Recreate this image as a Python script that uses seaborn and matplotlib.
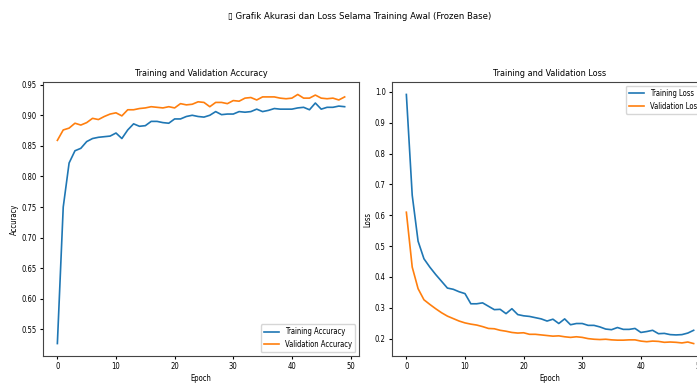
import pandas as pd
import seaborn as sns
import matplotlib.pyplot as plt

epochs = list(range(50))

train_acc = [0.527, 0.750, 0.822, 0.842, 0.846, 0.857, 0.862, 0.864, 0.865, 0.866,
             0.871, 0.862, 0.876, 0.886, 0.882, 0.883, 0.890, 0.890, 0.888, 0.887,
             0.894, 0.894, 0.898, 0.900, 0.898, 0.897, 0.900, 0.906, 0.901, 0.902,
             0.902, 0.906, 0.905, 0.906, 0.910, 0.906, 0.908, 0.911, 0.910, 0.910,
             0.910, 0.912, 0.913, 0.909, 0.920, 0.910, 0.913, 0.913, 0.915, 0.914]
val_acc = [0.859, 0.876, 0.879, 0.887, 0.884, 0.888, 0.895, 0.893, 0.898, 0.902,
           0.904, 0.899, 0.909, 0.909, 0.911, 0.912, 0.914, 0.913, 0.912, 0.914,
           0.912, 0.919, 0.917, 0.918, 0.922, 0.921, 0.914, 0.921, 0.921, 0.919,
           0.924, 0.923, 0.928, 0.929, 0.925, 0.930, 0.930, 0.930, 0.928, 0.927,
           0.928, 0.934, 0.928, 0.928, 0.933, 0.928, 0.927, 0.928, 0.925, 0.930]
train_loss = [0.992, 0.665, 0.516, 0.459, 0.432, 0.408, 0.386, 0.364, 0.360, 0.352,
              0.346, 0.313, 0.313, 0.316, 0.305, 0.294, 0.295, 0.281, 0.297, 0.278,
              0.274, 0.272, 0.268, 0.264, 0.257, 0.263, 0.249, 0.264, 0.245, 0.249,
              0.249, 0.243, 0.243, 0.238, 0.231, 0.229, 0.236, 0.230, 0.230, 0.233,
              0.220, 0.223, 0.227, 0.216, 0.217, 0.213, 0.212, 0.213, 0.218, 0.227]
val_loss = [0.610, 0.432, 0.362, 0.326, 0.311, 0.297, 0.284, 0.273, 0.265, 0.257,
            0.251, 0.247, 0.244, 0.239, 0.233, 0.232, 0.227, 0.224, 0.220, 0.218,
            0.219, 0.214, 0.214, 0.212, 0.210, 0.208, 0.209, 0.206, 0.204, 0.206,
            0.204, 0.200, 0.198, 0.197, 0.198, 0.196, 0.195, 0.195, 0.196, 0.196,
            0.192, 0.190, 0.192, 0.191, 0.188, 0.189, 0.188, 0.186, 0.189, 0.184]

acc = pd.DataFrame({'epoch': epochs * 2,
                    'value': train_acc + val_acc,
                    'series': ['Training Accuracy'] * 50 + ['Validation Accuracy'] * 50})
loss = pd.DataFrame({'epoch': epochs * 2,
                     'value': train_loss + val_loss,
                     'series': ['Training Loss'] * 50 + ['Validation Loss'] * 50})

plt.rcParams['font.size'] = 5.5
plt.rcParams['font.stretch'] = 'condensed'
plt.rcParams['xtick.major.size'] = 2.5
plt.rcParams['ytick.major.size'] = 2.5
plt.rcParams['xtick.major.pad'] = 2
plt.rcParams['ytick.major.pad'] = 2
plt.rcParams['axes.labelpad'] = 2
plt.rcParams['axes.edgecolor'] = '#444444'
plt.rcParams['axes.titlepad'] = 4
colors = ['#1f77b4', '#ff7f0e']

fig = plt.figure(figsize=(6.97, 3.85), dpi=100)
ax1 = fig.add_axes([0.0617, 0.0753, 0.4534, 0.7117])
ax2 = fig.add_axes([0.5624, 0.0753, 0.4534, 0.7117])

# accuracy per epoch
sns.lineplot(data=acc, x='epoch', y='value', hue='series', palette=colors,
             linewidth=1.2, ax=ax1)
ax1.set_title('Training and Validation Accuracy', fontsize=6.5)
ax1.set_xlabel('Epoch')
ax1.set_ylabel('Accuracy')
ax1.legend(loc='lower right', fontsize=5.5)

# loss per epoch (axes runs past the right edge, like the screenshot)
sns.lineplot(data=loss, x='epoch', y='value', hue='series', palette=colors,
             linewidth=1.2, ax=ax2)
ax2.set_title('Training and Validation Loss', fontsize=6.5)
ax2.set_xlabel('Epoch')
ax2.set_ylabel('Loss')
ax2.legend(loc='upper right', fontsize=5.5)

fig.text(0.516, 0.957, '\u25af Grafik Akurasi dan Loss Selama Training Awal (Frozen Base)',
         ha='center', va='center', fontsize=6.8)

plt.savefig('out.png', dpi=100)
